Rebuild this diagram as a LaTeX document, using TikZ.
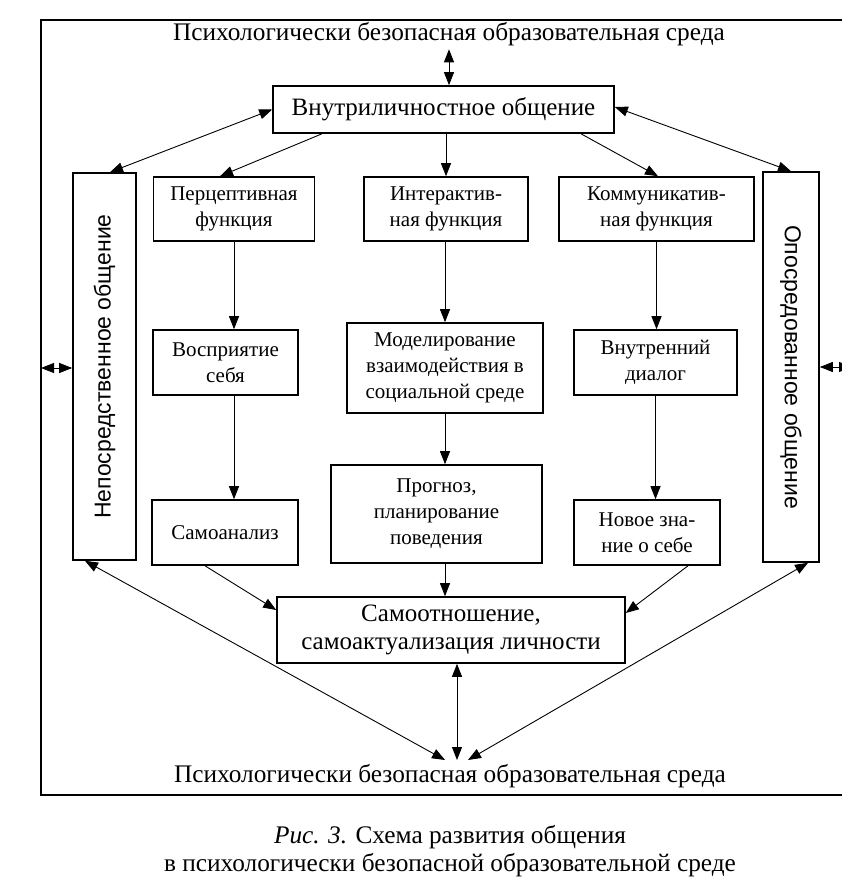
\documentclass[tikz,border=0pt]{standalone}
\usepackage{fontspec}
\setmainfont{Liberation Serif}
\setsansfont{Liberation Sans}
\usetikzlibrary{positioning, arrows.meta}

\begin{document}
\begin{tikzpicture}[x=1pt, y=-1pt,
    >={Triangle[length=13pt, width=10pt]},
    box/.style={draw, line width=1.6pt, align=center, inner sep=2pt,
      font=\fontsize{21}{26}\selectfont},
    bigbox/.style={box, font=\fontsize{25}{28}\selectfont},
    sidebox/.style={draw, line width=1.6pt, inner sep=0pt},
    sidetext/.style={inner sep=0pt, font=\sffamily\fontsize{23}{27}\selectfont},
    envtext/.style={font=\fontsize{25.3}{28}\selectfont},
    link/.style={line width=0.9pt}]
    \useasboundingbox (0,0) rectangle (841,882);

    % Frame
    \coordinate (frameNW) at (41,20);
    \coordinate (frameSE) at (852,795);
    \draw[line width=1.4pt] (frameNW) rectangle (frameSE);

    % Environment, top and bottom
    \node[envtext] (envtop) at (449,34) {Психологически безопасная образовательная среда};
    \node[envtext] (envbot) at (450,776) {Психологически безопасная образовательная среда};

    % Intrapersonal communication
    \node[bigbox, minimum width=341pt, minimum height=47pt] (intra) at (443.5,109.5) {Внутриличностное общение};

    % Side boxes
    \node[sidebox, minimum width=63pt, minimum height=387pt] (direct) at (104.5,366.5) {};
    \node[sidetext, rotate=90] at (direct.center) {Непосредственное общение};
    \node[sidebox, minimum width=56pt, minimum height=390pt] (mediated) at (791,367) {};
    \node[sidetext, rotate=-90] at (mediated.center) {Опосредованное общение};

    % Functions
    \node[box, minimum width=161pt, minimum height=64pt] (percept) at (234,209) {Перцептивная\\функция};
    \node[box, minimum width=164pt, minimum height=64pt] (interact) at (446,209) {Интерактив-\\ная функция};
    \node[box, minimum width=195pt, minimum height=64pt] (communic) at (656.5,209) {Коммуникатив-\\ная функция};

    % Second row
    \node[box, minimum width=145pt, minimum height=65pt] (selfperc) at (225.5,362.5) {Восприятие\\себя};
    \node[box, minimum width=196pt, minimum height=90pt] (modeling) at (445,368) {Моделирование\\взаимодействия в\\социальной среде};
    \node[box, minimum width=163pt, minimum height=65pt] (dialog) at (655.5,362.5) {Внутренний\\диалог};

    % Third row
    \node[box, minimum width=146pt, minimum height=65pt] (selfanal) at (225,532.5) {Самоанализ};
    \node[box, minimum width=211pt, minimum height=98pt] (forecast) at (436.5,514) {Прогноз,\\планирование\\поведения};
    \node[box, minimum width=146pt, minimum height=65pt] (newknow) at (647,532.5) {Новое зна-\\ние о себе};

    % Self-relation
    \node[bigbox, minimum width=348pt, minimum height=66pt] (selfrel) at (451,630) {Самоотношение,\\самоактуализация личности};

    % Caption
    \node[envtext, align=center] (caption) at (450,851) {\textit{Рис. 3.} Схема развития общения\\в психологически безопасной образовательной среде};

    % Meeting points at the bottom
    \coordinate (meetl) at (445,760);
    \coordinate (meetc) at (457,760);
    \coordinate (meetr) at (468,760);
    \coordinate (sideL) at (41,368);
    \coordinate (sideR) at (852,367);

    % Arrows from the top
    \draw[link, <->] (envtop.south) -- (envtop.south |- intra.north);
    \draw[link, <->] (intra.west) -- ([xshift=5.5pt]direct.north);
    \draw[link, <->] ([yshift=2.5pt]intra.east) -- (mediated.north);
    \draw[link, ->] ([xshift=-121.5pt]intra.south) -- ([xshift=-14pt]percept.north);
    \draw[link, ->] (intra.south -| interact.north) -- (interact.north);
    \draw[link, ->] ([xshift=137.5pt]intra.south) -- ([xshift=1.5pt]communic.north);

    % Columns
    \draw[link, ->] (percept.south) -- (percept.south |- selfperc.north);
    \draw[link, ->] (percept.south |- selfperc.south) -- (percept.south |- selfanal.north);
    \draw[link, ->] (interact.south -| modeling.north) -- (modeling.north);
    \draw[link, ->] (modeling.south) -- (modeling.south |- forecast.north);
    \draw[link, ->] (modeling.south |- forecast.south) -- (modeling.south |- selfrel.north);
    \draw[link, ->] (communic.south) -- (communic.south |- dialog.north);
    \draw[link, ->] (dialog.south) -- (dialog.south |- newknow.north);

    % Into self-relation
    \draw[link, ->] ([xshift=-20pt]selfanal.south) -- ([yshift=20pt]selfrel.west);
    \draw[link, ->] ([xshift=41pt]newknow.south) -- ([yshift=17pt]selfrel.east);

    % To the bottom environment
    \draw[link, <->] ([xshift=6pt]selfrel.south) -- (meetc);
    \draw[link, <->] ([xshift=-19.5pt]direct.south) -- (meetl);
    \draw[link, <->] ([xshift=17pt]mediated.south) -- (meetr);

    % Side arrows
    \draw[link, <->] (sideL) -- (direct.west |- sideL);
    \draw[link, <->] (mediated.east |- sideR) -- (sideR);
  \end{tikzpicture}
\end{document}
